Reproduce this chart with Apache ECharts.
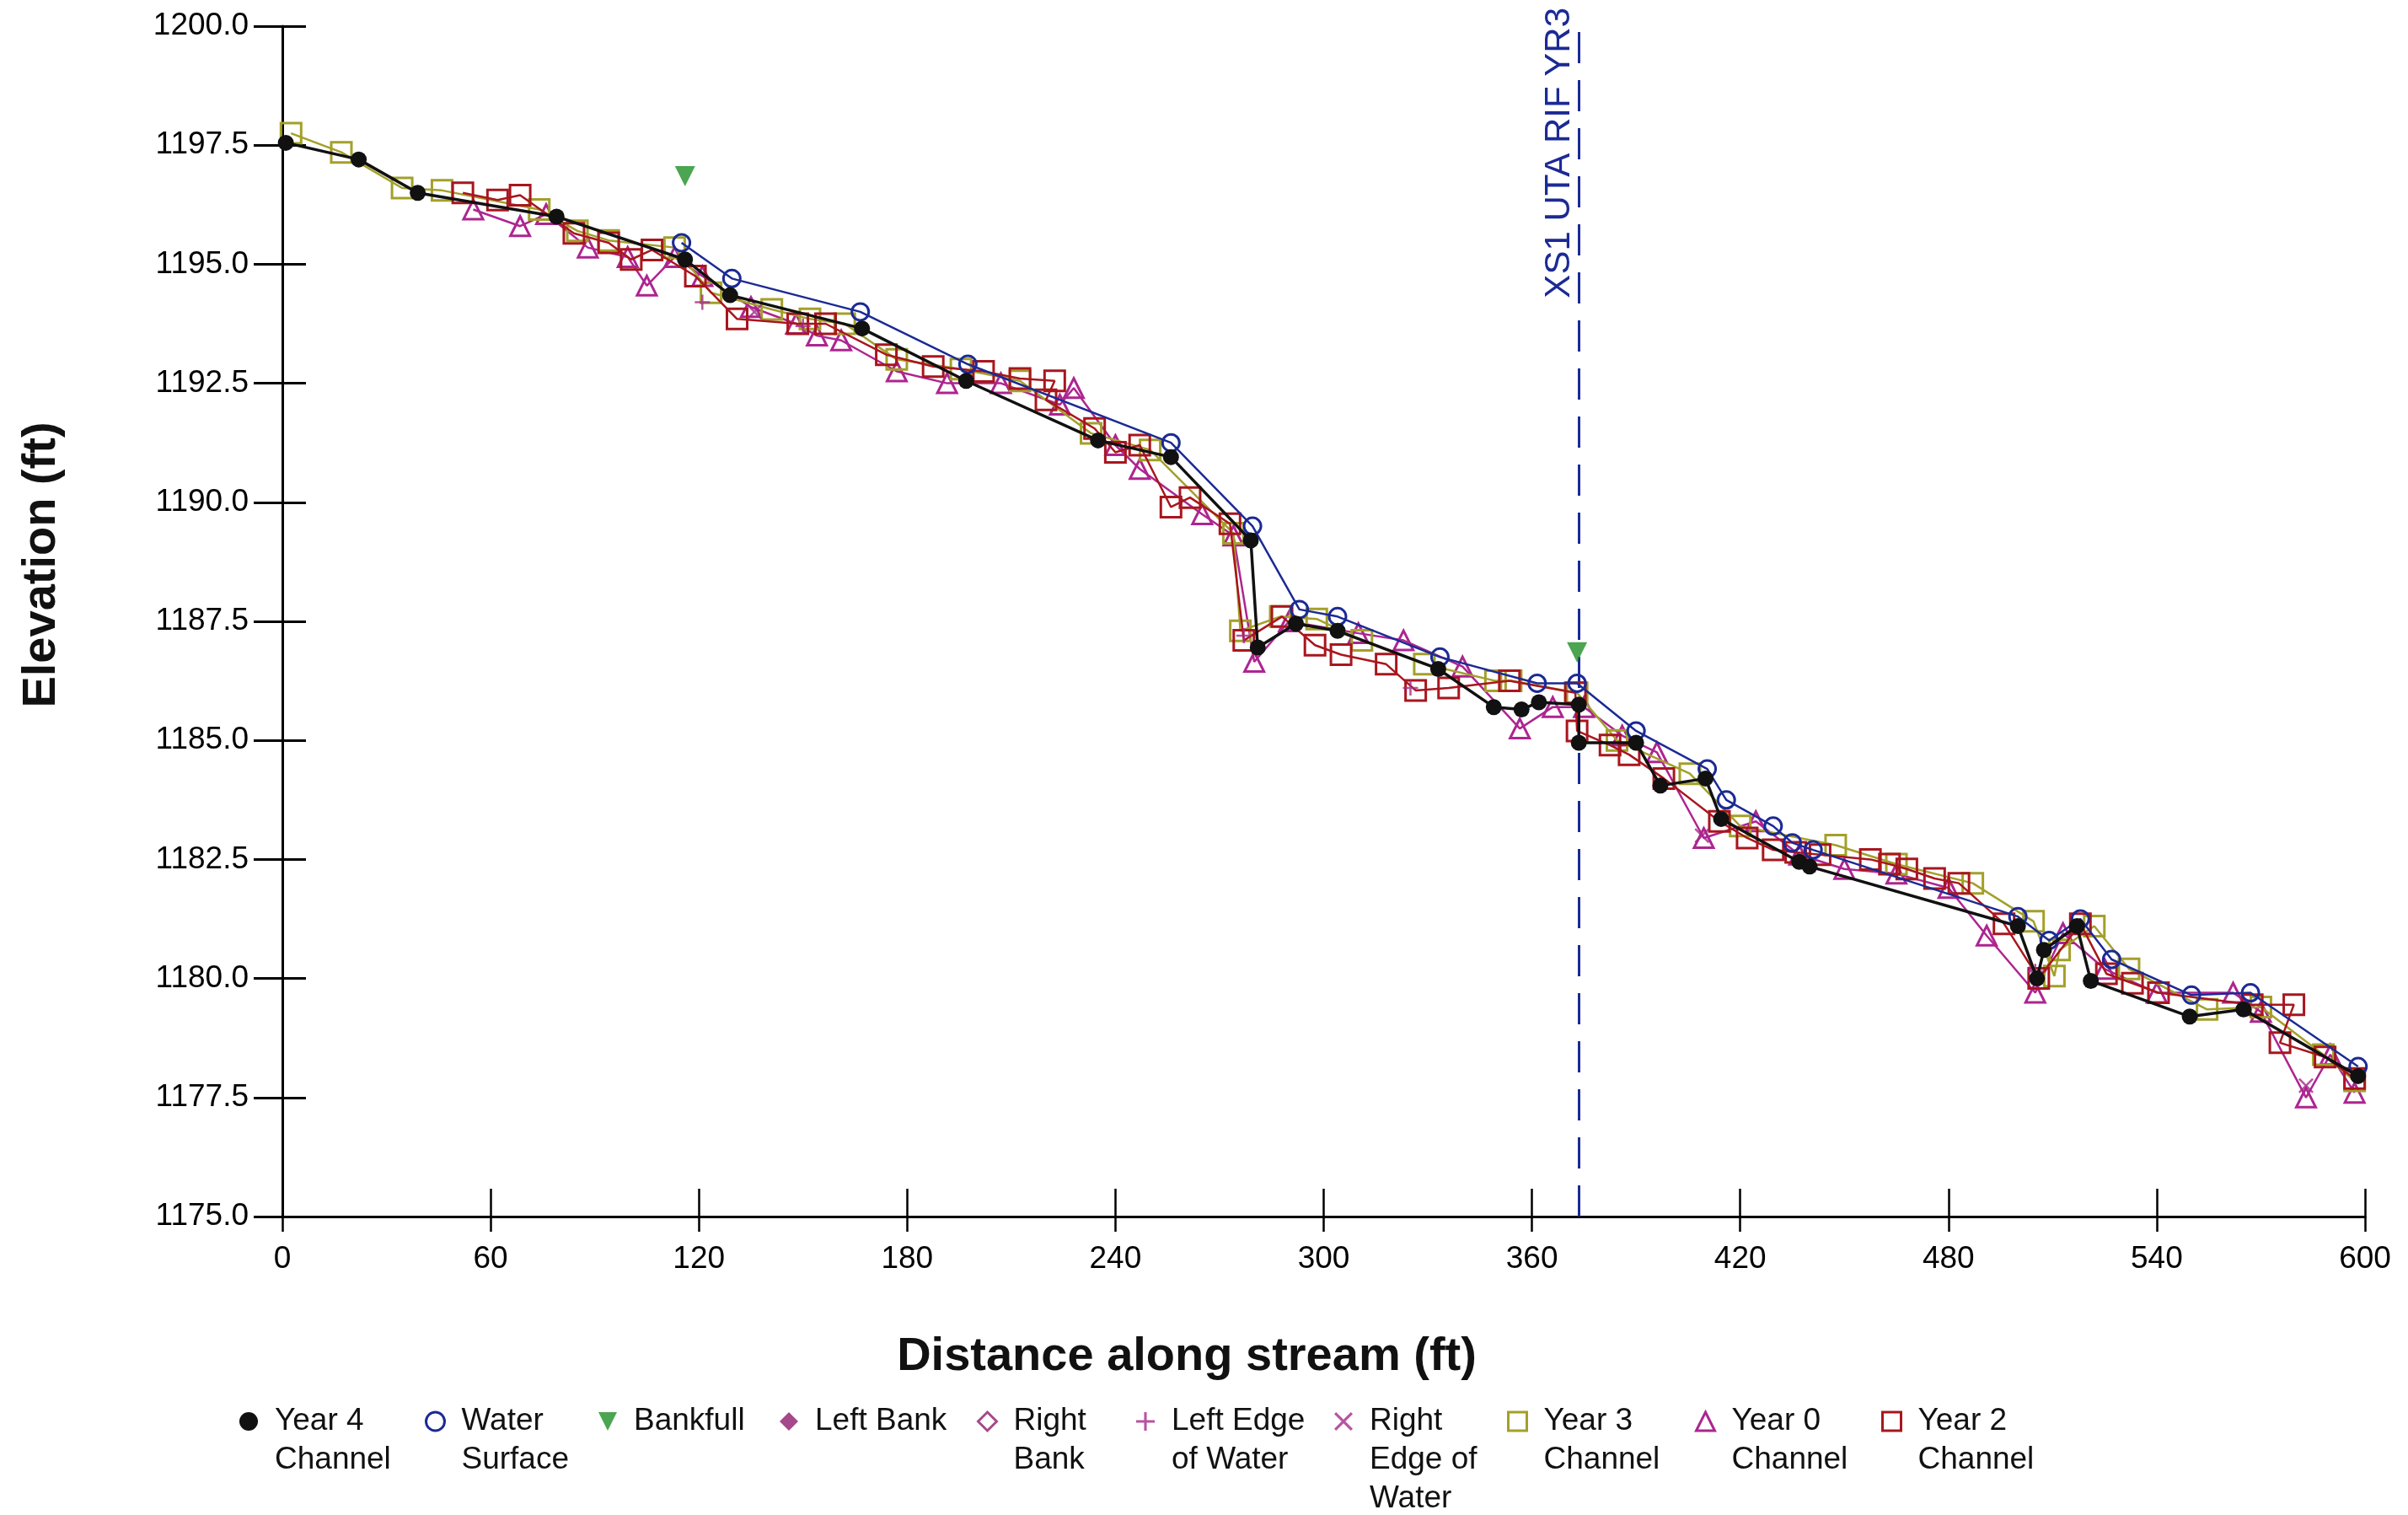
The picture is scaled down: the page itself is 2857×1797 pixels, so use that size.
<!DOCTYPE html>
<html><head><meta charset="utf-8">
<script src="https://cdn.jsdelivr.net/npm/echarts/dist/echarts.min.js"></script>
<style>html,body{margin:0;padding:0;background:#fff}#c{width:2857px;height:1797px}</style>
</head><body><div id="c"></div>
<script>
// ---------------- DATA ----------------
const xTicks = [0, 60, 120, 180, 240, 300, 360, 420, 480, 540, 600];
const yTicks = [1175.0, 1177.5, 1180.0, 1182.5, 1185.0, 1187.5, 1190.0, 1192.5, 1195.0, 1197.5, 1200.0];

const year4Channel = [[1,1197.55],[22,1197.2],[39,1196.5],[79,1196.0],[116,1195.1],[129,1194.35],[167,1193.65],[197,1192.55],[235,1191.3],[256,1190.95],[279,1189.2],[281,1186.95],[292,1187.45],[304,1187.3],[333,1186.5],[349,1185.7],[357,1185.65],[362,1185.8],[373.5,1185.75],[373.5,1184.95],[390,1184.95],[397,1184.05],[410,1184.2],[414.5,1183.35],[437,1182.45],[440,1182.35],[500,1181.1],[505.5,1180.0],[507.5,1180.6],[517,1181.1],[521,1179.95],[549.5,1179.2],[565,1179.35],[598,1177.95]];
const waterSurface = [[115,1195.45],[129.5,1194.7],[166.5,1194.0],[197.5,1192.9],[256,1191.25],[279.5,1189.5],[293,1187.75],[304,1187.6],[333.5,1186.75],[361.5,1186.2],[373,1186.2],[390,1185.2],[410.5,1184.4],[416,1183.75],[429.5,1183.2],[435,1182.85],[441,1182.7],[500,1181.3],[509,1180.8],[518,1181.25],[527,1180.4],[550,1179.65],[567,1179.7],[598,1178.15]];
const bankfull = [[116,1196.85],[373,1186.85]];
const leftBank = [];
const rightBank = [];
const leftEdgeOfWater = [[121,1194.2],[150,1193.7],[277,1187.2],[325,1186.1],[505,1180.15]];
const rightEdgeOfWater = [[136,1194.0],[409,1183.0],[505,1180.1],[583,1177.75]];
const year3Channel = [[2.5,1197.75],[17,1197.35],[34.5,1196.6],[46,1196.55],[74,1196.15],[85,1195.7],[94,1195.5],[113,1195.35],[123.5,1194.4],[141,1194.05],[152,1193.85],[162,1193.75],[177,1193.0],[195.5,1192.8],[212.5,1192.55],[233,1191.45],[250,1191.1],[274,1189.35],[276,1187.3],[287.5,1187.6],[298,1187.55],[311,1187.1],[329,1186.6],[349.5,1186.25],[354,1186.25],[373,1186.0],[384.5,1185.0],[405.5,1184.3],[420,1183.2],[447.5,1182.8],[465,1182.4],[487,1182.0],[504.5,1181.2],[510.5,1180.05],[512,1180.6],[522,1181.1],[532,1180.2],[554.5,1179.35],[570,1179.4],[588,1178.4],[597,1177.85]];
const year0Channel = [[55,1196.15],[68.5,1195.8],[76,1196.05],[88,1195.35],[99.5,1195.15],[105,1194.55],[113,1195.15],[121,1194.75],[135,1194.1],[148,1193.75],[154,1193.5],[161,1193.4],[177,1192.75],[191.5,1192.5],[207,1192.5],[224,1192.05],[228,1192.4],[240,1191.2],[247,1190.7],[265,1189.75],[274,1189.3],[280,1186.65],[290,1187.5],[310,1187.25],[323,1187.1],[340,1186.55],[356.5,1185.25],[366,1185.7],[375,1185.7],[386,1185.1],[396,1184.75],[409.5,1182.95],[424.5,1183.3],[437,1182.6],[450,1182.3],[465,1182.2],[480,1181.9],[491,1180.9],[505,1179.7],[513,1180.95],[525,1180.2],[540,1179.7],[562,1179.7],[570,1179.3],[583,1177.5],[590,1178.4],[597,1177.6]];
const year2Channel = [[52,1196.5],[62,1196.35],[68.5,1196.45],[84,1195.65],[94,1195.45],[100.5,1195.1],[106.5,1195.3],[119,1194.75],[131,1193.85],[148.5,1193.75],[156.5,1193.75],[174,1193.1],[187.5,1192.85],[202,1192.75],[212.5,1192.6],[222.5,1192.55],[220,1192.15],[234,1191.55],[240,1191.05],[247,1191.2],[256,1189.9],[261.5,1190.1],[273,1189.55],[277,1187.1],[288,1187.6],[297.5,1187.0],[305,1186.8],[318,1186.6],[326.5,1186.05],[336,1186.1],[353.5,1186.25],[372.5,1186.0],[373,1185.2],[382.5,1184.9],[388,1184.7],[398,1184.2],[414,1183.3],[422,1182.95],[429.5,1182.7],[436,1182.65],[443,1182.6],[457.5,1182.5],[463,1182.4],[468,1182.3],[476,1182.1],[483,1182.0],[496,1181.15],[506,1180.0],[518,1181.15],[525.5,1180.1],[533,1179.9],[540.5,1179.7],[567.5,1179.45],[579.5,1179.45],[575.5,1178.65],[588.5,1178.35],[597,1177.9]];

const sectionX = [373.5];
const sectionLabel = 'XS1 UTA RIF YR3';

const seriesNames = ['Year 4 Channel','Water Surface','Bankfull','Left Bank','Right Bank','Left Edge of Water','Right Edge of Water','Year 3 Channel','Year 0 Channel','Year 2 Channel'];
const legendLabels = ['Year 4\nChannel','Water\nSurface','Bankfull','Left Bank','Right\nBank','Left Edge\nof Water','Right\nEdge of\nWater','Year 3\nChannel','Year 0\nChannel','Year 2\nChannel'];
const xTitle = 'Distance along stream (ft)';
const yTitle = 'Elevation (ft)';

// ---------------- STYLE ----------------
const FONT = '"Liberation Sans", Arial, sans-serif';
const TRI_DOWN = 'path://M0,0L10,0L5,10Z';
const PLUS = 'path://M4.3,0H5.7V4.3H10V5.7H5.7V10H4.3V5.7H0V4.3H4.3Z';
const CROSS = 'path://M0,1L1,0L5,4L9,0L10,1L6,5L10,9L9,10L5,6L1,10L0,9L4,5Z';
const NONE = 'rgba(0,0,0,0)';
const styles = [
  {type:'line', color:'#111111', symbol:'circle', size:19, filled:true, lw:3.5, z:8},
  {type:'line', color:'#1b2a94', symbol:'circle', size:20, filled:false, lw:2.5, z:7},
  {type:'scatter', color:'#1f8f24', symbol:TRI_DOWN, size:24, filled:true, z:9},
  {type:'scatter', color:'#8e1b6e', symbol:'diamond', size:22, filled:true, z:6},
  {type:'scatter', color:'#8e1b6e', symbol:'diamond', size:22, filled:false, z:6},
  {type:'scatter', color:'#a5288a', symbol:PLUS, size:18, filled:true, z:6},
  {type:'scatter', color:'#a5288a', symbol:CROSS, size:18, filled:true, z:6},
  {type:'line', color:'#a3a02a', symbol:'rect', size:24, filled:false, lw:2.5, z:4},
  {type:'line', color:'#ad2590', symbol:'triangle', size:23, filled:false, lw:2.5, z:3},
  {type:'line', color:'#a8161e', symbol:'rect', size:24, filled:false, lw:2.5, z:5}
];
const legendIconX = [295,515,721,936,1170,1359,1594,1799,2022,2243];
const legendIconY = 1686;
const legendLineH = 46;

const dataSets = [year4Channel, waterSurface, bankfull, leftBank, rightBank, leftEdgeOfWater, rightEdgeOfWater, year3Channel, year0Channel, year2Channel];

const series = dataSets.map((d, i) => {
  const st = styles[i];
  const s = {
    name: seriesNames[i], type: st.type, data: d, symbol: st.symbol, symbolSize: st.size,
    z: st.z, silent: true, animation: false,
    itemStyle: st.filled ? {color: st.color} : {color: NONE, borderColor: st.color, borderWidth: 3},
    emphasis: {disabled: true}
  };
  if (st.type === 'line') {
    s.showSymbol = true; s.showAllSymbol = true;
    s.lineStyle = {color: st.color, width: st.lw};
  }
  return s;
});
series[0].markLine = {
  silent: true, symbol: ['none','none'], animation: false,
  data: [{xAxis: sectionX[0]}],
  lineStyle: {type: [37, 20], color: '#1b2a94', width: 3},
  label: {show: true, position: 'insideEndTop', formatter: sectionLabel, color: '#1b2a94',
          fontSize: 42, fontFamily: FONT, distance: [-22, 2]}
};

// legend text is centred on its icon, so leading blank lines put the first real line level with the icon
const legends = seriesNames.map((name, i) => {
  const st = styles[i];
  const n = legendLabels[i].split('\n').length;
  const label = '\n'.repeat(n - 1) + legendLabels[i];
  return {
    data: [name], left: legendIconX[i] - 11, top: legendIconY - (2 * n - 1) * legendLineH / 2,
    orient: 'horizontal', padding: 0, itemGap: 0, selectedMode: false,
    icon: st.symbol, itemWidth: 22, itemHeight: 22,
    itemStyle: st.filled ? {color: st.color, borderWidth: 0} : {color: NONE, borderColor: st.color, borderWidth: 3},
    lineStyle: {width: 0},
    formatter: () => label,
    textStyle: {fontSize: 37, lineHeight: legendLineH, fontFamily: FONT, color: '#111', padding: [0, 0, 0, 15]}
  };
});

const axisCommonX = {type:'value', min:0, max:600, interval:60, position:'bottom', splitLine:{show:false}};
const axisCommonY = {type:'value', min:1175, max:1200, interval:2.5, position:'left', splitLine:{show:false}};

const option = {
  animation: false,
  backgroundColor: '#ffffff',
  grid: {left: 335, right: 51, top: 31, bottom: 354, containLabel: false, outerBoundsMode: 'none'},
  xAxis: [
    Object.assign({}, axisCommonX, {
      axisLine: {show: true, onZero: false, lineStyle: {color: '#000', width: 3}},
      axisTick: {show: true, inside: true, length: 33, lineStyle: {color: '#000', width: 2.5}},
      axisLabel: {show: true, fontSize: 37, fontFamily: FONT, color: '#000', margin: 32, showMinLabel: true, showMaxLabel: true}
    }),
    Object.assign({}, axisCommonX, {
      axisLine: {show: false, onZero: false},
      axisTick: {show: true, inside: false, length: 18, lineStyle: {color: '#000', width: 2.5}},
      axisLabel: {show: false}
    })
  ],
  yAxis: [
    Object.assign({}, axisCommonY, {
      axisLine: {show: true, onZero: false, lineStyle: {color: '#000', width: 3}},
      axisTick: {show: true, inside: false, length: 34, lineStyle: {color: '#000', width: 3}},
      axisLabel: {show: true, fontSize: 37, fontFamily: FONT, color: '#000', margin: 40,
                  formatter: v => Number(v).toFixed(1), showMinLabel: true, showMaxLabel: true}
    }),
    Object.assign({}, axisCommonY, {
      axisLine: {show: false, onZero: false},
      axisTick: {show: true, inside: true, length: 28, lineStyle: {color: '#000', width: 3}},
      axisLabel: {show: false}
    })
  ],
  legend: legends,
  graphic: [
    {type: 'text', x: 1408, y: 1610, silent: true,
     style: {text: xTitle, fontSize: 56, fontWeight: 'bold', fontFamily: FONT, fill: '#111', align: 'center', verticalAlign: 'middle'}},
    {type: 'text', x: 50, y: 670, rotation: Math.PI / 2, silent: true,
     style: {text: yTitle, fontSize: 56, fontWeight: 'bold', fontFamily: FONT, fill: '#111', align: 'center', verticalAlign: 'middle'}}
  ],
  series: series
};

const chart = echarts.init(document.getElementById('c'), null, {renderer: 'canvas', width: 2857, height: 1797});
chart.setOption(option);
</script>
</body></html>
